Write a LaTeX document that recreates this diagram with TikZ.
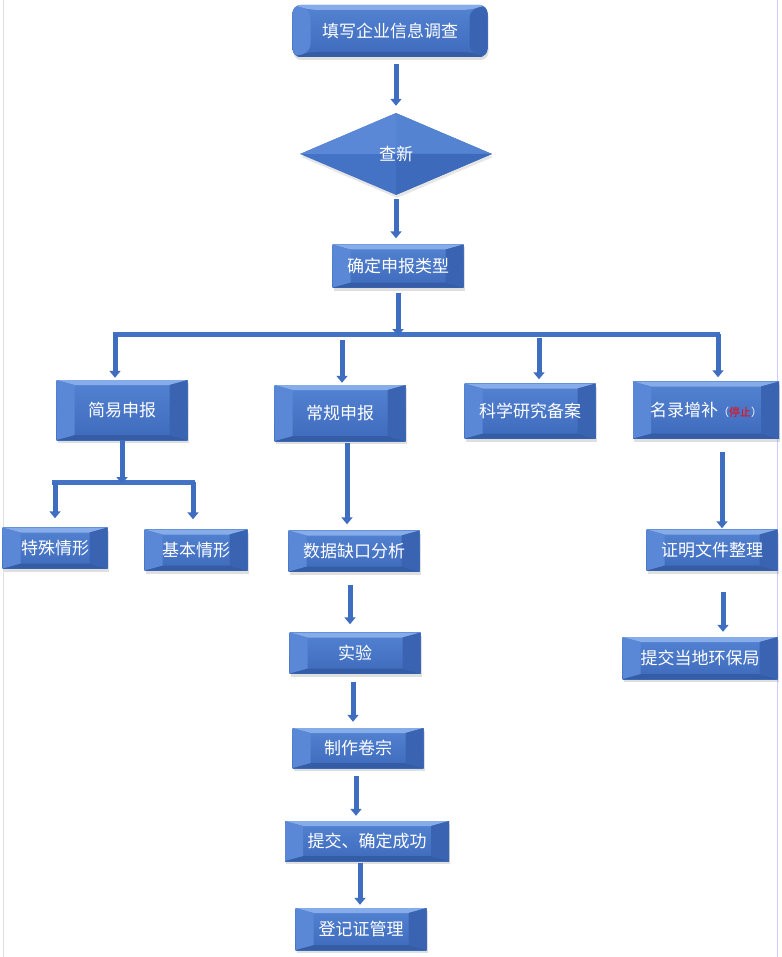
\documentclass[tikz,border=0pt]{standalone}
\usepackage{fontspec}
\newfontfamily\cjk{Noto Sans CJK SC}
\usetikzlibrary{shapes.geometric, arrows.meta, shadows}
\definecolor{boxblue}{HTML}{4472C4}
\definecolor{facetop}{HTML}{5483D2}
\definecolor{facebot}{HTML}{3E6ABB}
\definecolor{bevtop}{HTML}{86ACEA}
\definecolor{bevbot}{HTML}{355DA6}
\definecolor{bevleft}{HTML}{5A88D6}
\definecolor{bevright}{HTML}{3A64B2}
\definecolor{pipeblue}{HTML}{3F6DBF}
\tikzset{
  box/.style={rectangle, top color=facetop, bottom color=facebot, text=white, inner sep=0pt,
    font=\cjk\fontsize{17}{17}\selectfont,
    drop shadow={opacity=0.25, shadow xshift=1pt, shadow yshift=-3pt},
    path picture={
      \fill[bevtop] (path picture bounding box.north west) -- (path picture bounding box.north east)
        -- ([shift={(-18pt,-5pt)}]path picture bounding box.north east) -- ([shift={(18pt,-5pt)}]path picture bounding box.north west) -- cycle;
      \fill[bevbot] (path picture bounding box.south west) -- (path picture bounding box.south east)
        -- ([shift={(-18pt,5pt)}]path picture bounding box.south east) -- ([shift={(18pt,5pt)}]path picture bounding box.south west) -- cycle;
      \fill[bevleft] (path picture bounding box.north west) -- ([shift={(18pt,-5pt)}]path picture bounding box.north west)
        -- ([shift={(18pt,5pt)}]path picture bounding box.south west) -- (path picture bounding box.south west) -- cycle;
      \fill[bevright] (path picture bounding box.north east) -- ([shift={(-18pt,-5pt)}]path picture bounding box.north east)
        -- ([shift={(-18pt,5pt)}]path picture bounding box.south east) -- (path picture bounding box.south east) -- cycle;
    }},
  diam/.style={diamond, shape aspect=2.34, minimum width=192pt, minimum height=82pt, inner sep=0pt,
    fill=boxblue, text=white, font=\cjk\fontsize{17}{17}\selectfont,
    drop shadow={opacity=0.2, shadow xshift=1pt, shadow yshift=-3pt},
    path picture={
      \fill[bevleft] (path picture bounding box.west) -- (path picture bounding box.north) -- (path picture bounding box.center) -- cycle;
      \fill[facetop] (path picture bounding box.north) -- (path picture bounding box.east) -- (path picture bounding box.center) -- cycle;
      \fill[facebot] (path picture bounding box.south) -- (path picture bounding box.east) -- (path picture bounding box.center) -- cycle;
    }},
  pipe/.style={draw=pipeblue, line width=5pt, -{Triangle[width=11pt,length=7pt]}},
  trunk/.style={draw=boxblue, line width=5pt},
}
\begin{document}
\begin{tikzpicture}[x=1pt, y=-1pt]
  \useasboundingbox (0,0) rectangle (781,957);
  % page edges
  \draw[color=black!12, line width=1pt] (3,0) -- (3,957);
  \draw[color=blue!20, line width=1pt] (777,0) -- (777,957);

  \node[box, rounded corners=8pt, minimum width=195pt, minimum height=52pt] (tianxie) at (390,31) {填写企业信息调查};
  \node[diam] (chaxin) at (396,154) {查新};
  \node[box, minimum width=131pt, minimum height=43pt] (leixing) at (398,266) {确定申报类型};

  \node[box, minimum width=131pt, minimum height=60pt] (jianyi) at (122,410) {简易申报};
  \node[box, minimum width=131pt, minimum height=56pt] (changgui) at (340,413) {常规申报};
  \node[box, minimum width=131pt, minimum height=55pt] (kexue) at (530,411) {科学研究备案};
  \node[box, minimum width=146pt, minimum height=57pt] (minglu) at (706,410)
    {名录增补{\fontsize{11}{11}\selectfont （\textcolor{red}{停止}）}};

  \node[box, minimum width=105pt, minimum height=41pt] (teshu) at (55,548) {特殊情形};
  \node[box, minimum width=103pt, minimum height=41pt] (jiben) at (196,550) {基本情形};

  \node[box, minimum width=131pt, minimum height=41pt] (queshou) at (354,551) {数据缺口分析};
  \node[box, minimum width=131pt, minimum height=41pt] (shiyan) at (355,653) {实验};
  \node[box, minimum width=131pt, minimum height=40pt] (juanzong) at (358,748) {制作卷宗};
  \node[box, minimum width=164pt, minimum height=40pt] (tijiao) at (367,841) {提交、确定成功};
  \node[box, minimum width=131pt, minimum height=42pt] (dengji) at (361,929) {登记证管理};

  \node[box, minimum width=131pt, minimum height=41pt] (zhengming) at (712,550) {证明文件整理};
  \node[box, minimum width=155pt, minimum height=42pt] (huanbao) at (700,658) {提交当地环保局};

  % top chain
  \draw[pipe, shorten <=7pt, shorten >=7pt] (tianxie.south -| chaxin.north) -- (chaxin.north);
  \draw[pipe, shorten <=4pt, shorten >=6pt] (chaxin.south) -- (chaxin.south |- leixing.north);

  % main bar
  \coordinate (bar) at (398,334);
  \coordinate (barL) at (113,334);
  \coordinate (barR) at (720,334);
  \draw[trunk] (barL) -- (barR);
  \draw[pipe, shorten <=5pt] (leixing.south) -- ([yshift=-2pt]bar);
  \draw[pipe, shorten >=2pt] ([xshift=2pt]barL) -- ([xshift=-7pt]jianyi.north);
  \draw[pipe, shorten <=6pt, shorten >=2pt] ([xshift=2pt]changgui.north |- bar) -- ([xshift=2pt]changgui.north);
  \draw[pipe, shorten <=4pt, shorten >=4pt] ([xshift=9pt]kexue.north |- bar) -- ([xshift=9pt]kexue.north);
  \draw[pipe, shorten >=4pt] ([xshift=-2pt]barR) -- ([xshift=12pt]minglu.north);

  % jianyi branch
  \coordinate (sub) at (122,482);
  \coordinate (subL) at (52,482);
  \coordinate (subR) at (195,482);
  \draw[trunk] (subL) -- (subR);
  \draw[pipe] (jianyi.south) -- ([yshift=-2pt]sub);
  \draw[pipe, shorten >=9pt] ([xshift=3pt]subL) -- (teshu.north);
  \draw[pipe, shorten >=10pt] ([xshift=-2pt]subR) -- ([xshift=-3pt]jiben.north);

  % changgui chain
  \draw[pipe, shorten <=2pt, shorten >=6pt] ([xshift=7pt]changgui.south) -- ([xshift=7pt]changgui.south |- queshou.north);
  \draw[pipe, shorten <=13pt, shorten >=8pt] ([xshift=-4pt]queshou.south) -- ([xshift=-4pt]queshou.south |- shiyan.north);
  \draw[pipe, shorten <=8pt, shorten >=6pt] ([xshift=-2pt]shiyan.south) -- ([xshift=-2pt]shiyan.south |- juanzong.north);
  \draw[pipe, shorten <=8pt, shorten >=5pt] ([xshift=-2pt]juanzong.south) -- ([xshift=-2pt]juanzong.south |- tijiao.north);
  \draw[pipe, shorten <=2pt, shorten >=3pt] ([xshift=-7pt]tijiao.south) -- ([xshift=-7pt]tijiao.south |- dengji.north);

  % minglu chain
  \draw[pipe, shorten <=13pt, shorten >=1pt] ([xshift=16pt]minglu.south) -- ([xshift=16pt]minglu.south |- zhengming.north);
  \draw[pipe, shorten <=21pt, shorten >=5pt] ([xshift=11pt]zhengming.south) -- ([xshift=11pt]zhengming.south |- huanbao.north);
\end{tikzpicture}
\end{document}
